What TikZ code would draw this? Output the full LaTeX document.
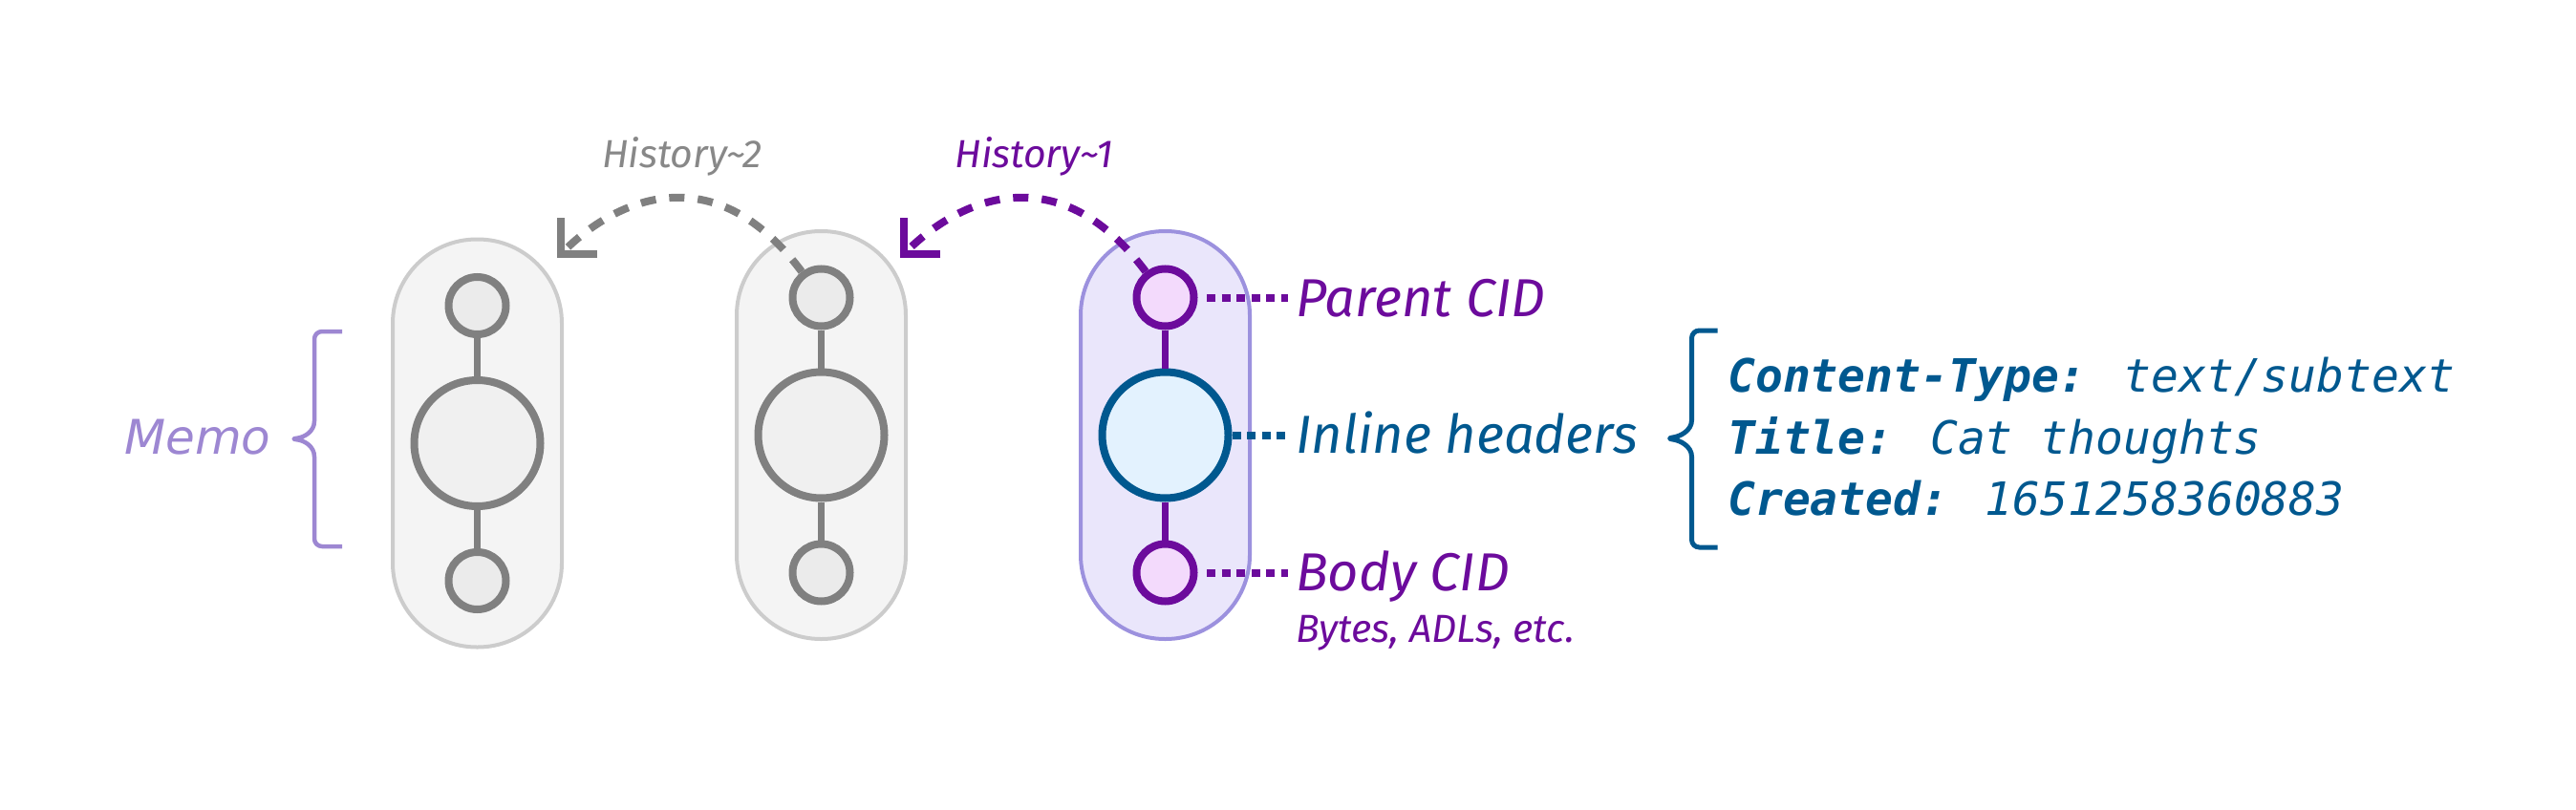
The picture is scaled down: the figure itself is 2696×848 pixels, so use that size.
\documentclass[tikz,border=0pt]{standalone}
\usepackage{fontspec}
\setmainfont{Fira Sans}
\newfontfamily\memofont{DejaVu Sans}
\newfontfamily\monofont{DejaVu Sans Mono}
\usetikzlibrary{arrows.meta}
\definecolor{purp}{HTML}{6C0B9C}
\definecolor{blueC}{HTML}{00588F}
\definecolor{memoC}{HTML}{9D87D2}
\definecolor{capFill}{HTML}{EAE6FB}
\definecolor{capLine}{HTML}{9C91DE}
\definecolor{pinkFill}{HTML}{F3DAFC}
\definecolor{blueFill}{HTML}{E3F2FE}
\definecolor{gLine}{HTML}{808080}
\definecolor{gSmall}{HTML}{EBEBEB}
\definecolor{gBig}{HTML}{F0F0F0}
\definecolor{gCapFill}{HTML}{F4F4F4}
\definecolor{gCapLine}{HTML}{CCCCCC}
\definecolor{gText}{HTML}{888888}
\tikzset{
  capsule/.style={rectangle, rounded corners=88pt, minimum width=177pt, minimum height=427pt, line width=4pt, inner sep=0pt},
  gcap/.style={capsule, draw=gCapLine, fill=gCapFill},
  pcap/.style={capsule, draw=capLine, fill=capFill},
  smallc/.style={circle, minimum size=60pt, inner sep=0pt, line width=8pt},
  bigc/.style={circle, minimum size=132pt, inner sep=0pt, line width=8pt},
  gsmall/.style={smallc, draw=gLine, fill=gSmall},
  gbig/.style={bigc, draw=gLine, fill=gBig},
  psmall/.style={smallc, draw=purp, fill=pinkFill},
  bbig/.style={bigc, draw=blueC, fill=blueFill},
  link/.style={line width=7pt},
  harrow/.style={line width=8pt, dash pattern=on 16pt off 14pt, -{Straight Barb[length=27pt, width=54pt, line width=8pt]}},
  dotl/.style={line width=8pt, dash pattern=on 9pt off 6.6pt},
  lbl/.style={inner sep=0pt, anchor=base west, font=\fontsize{56}{60}\selectfont\itshape},
  small lbl/.style={inner sep=0pt, font=\fontsize{41}{46}\selectfont\itshape},
  mono/.style={inner sep=0pt, anchor=base west, text=blueC, font=\monofont\itshape\fontsize{48}{56}\selectfont},
  bracel/.style={line width=5pt, rounded corners=8pt, line join=round}
}
\begin{document}
\begin{tikzpicture}[x=1pt,y=-1pt]
\useasboundingbox (0,0) rectangle (2696,848);

% capsules
\node[gcap] (c1) at (499.5,464) {};
\node[gcap] (c2) at (859.5,455.5) {};
\node[pcap] (c3) at (1219.5,455.5) {};

% circles
\node[gsmall] (t1) at (499.5,320) {};
\node[gbig]   (m1) at (499.5,464) {};
\node[gsmall] (b1) at (499.5,608) {};
\node[gsmall] (t2) at (859.5,311.5) {};
\node[gbig]   (m2) at (859.5,455.5) {};
\node[gsmall] (b2) at (859.5,599.5) {};
\node[psmall] (t3) at (1219.5,311.5) {};
\node[bbig]   (m3) at (1219.5,455.5) {};
\node[psmall] (b3) at (1219.5,599.5) {};

% links
\draw[link, gLine] (t1) -- (m1);
\draw[link, gLine] (m1) -- (b1);
\draw[link, gLine] (t2) -- (m2);
\draw[link, gLine] (m2) -- (b2);
\draw[link, purp] (t3) -- (m3);
\draw[link, purp] (m3) -- (b3);

% history arrows
\coordinate (h1end) at (942,270);
\coordinate (h2end) at (583,270);
\draw[harrow, purp] (t3.127) .. controls (1106,160) and (1002,210) .. (h1end);
\draw[harrow, gLine] (t2.127) .. controls (746,160) and (643,210) .. (h2end);
\node[small lbl, text=gText, anchor=base] (hist2) at (714,175.5) {History\textasciitilde 2};
\node[small lbl, text=purp, anchor=base] (hist1) at (1082,175.5) {History\textasciitilde 1};

% labels
\node[lbl, text=purp] (parent) at (1356,331) {Parent CID};
\node[lbl, text=blueC] (inline) at (1356,474.7) {Inline headers};
\node[lbl, text=purp] (body) at (1356,618) {Body CID};
\node[small lbl, text=purp, anchor=base west] (bytes) at (1356,672) {Bytes, ADLs, etc.};

\draw[dotl, purp, shorten <=9.5pt, shorten >=8pt] (t3.east) -- (t3.east -| parent.west);
\draw[dotl, blueC, shorten >=8pt] (m3.east) -- (m3.east -| inline.west);
\draw[dotl, purp, shorten <=9.5pt, shorten >=8pt] (b3.east) -- (b3.east -| body.west);

% memo brace
\node[inner sep=0pt, anchor=base west, text=memoC, font=\memofont\itshape\fontsize{50}{60}\selectfont] (memo) at (130,475) {Memo};
\draw[bracel, memoC, line width=4.5pt] (358,347) -- (329,347) -- (329,433)
   .. controls (329,452) and (318,458) .. (303,459.5)
   .. controls (318,461) and (329,467) .. (329,486) -- (329,572) -- (358,572);

% header brace
\draw[bracel, blueC] (1797.5,346) -- (1770.5,346) -- (1770.5,432)
   .. controls (1770.5,451) and (1758,457) .. (1743,459)
   .. controls (1758,461) and (1770.5,467) .. (1770.5,486) -- (1770.5,573) -- (1797.5,573);

% header text
\node[mono] (ct) at (1808,410.7) {{\bfseries Content-Type:} text/subtext};
\node[mono] (ti) at (1808,475.5) {{\bfseries Title:} Cat thoughts};
\node[mono] (cr) at (1808,539.5) {{\bfseries Created:} 1651258360883};
\end{tikzpicture}
\end{document}
